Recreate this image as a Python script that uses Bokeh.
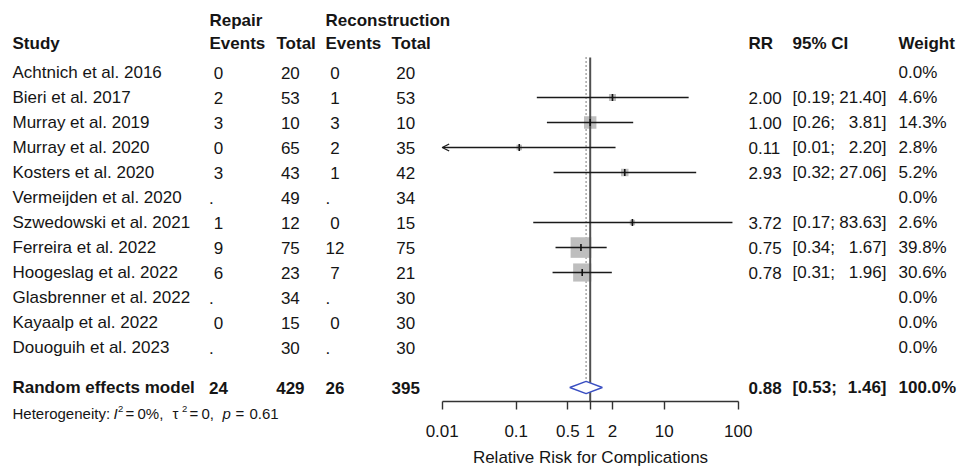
import math
from bokeh.plotting import figure
from bokeh.models import (Range1d, LinearScale, LogAxis, FixedTicker, Arrow, OpenHead)
from bokeh.core.properties import value
from bokeh.embed import file_html
from bokeh.resources import INLINE

# ---------------- data ----------------
studies = ["Achtnich et al. 2016", "Bieri et al. 2017", "Murray et al. 2019", "Murray et al. 2020",
           "Kosters et al. 2020", "Vermeijden et al. 2020", "Szwedowski et al. 2021", "Ferreira et al. 2022",
           "Hoogeslag et al. 2022", "Glasbrenner et al. 2022", "Kayaalp et al. 2022", "Douoguih et al. 2023"]
repair_events = [0, 2, 3, 0, 3, None, 1, 9, 6, None, 0, None]
repair_total = [20, 53, 10, 65, 43, 49, 12, 75, 23, 34, 15, 30]
recon_events = [0, 1, 3, 2, 1, None, 0, 12, 7, None, 0, None]
recon_total = [20, 53, 10, 35, 42, 34, 15, 75, 21, 30, 30, 30]
rr = [None, 2.00, 1.00, 0.11, 2.93, None, 3.72, 0.75, 0.78, None, None, None]
ci_lower = [None, 0.19, 0.26, 0.01, 0.32, None, 0.17, 0.34, 0.31, None, None, None]
ci_upper = [None, 21.40, 3.81, 2.20, 27.06, None, 83.63, 1.67, 1.96, None, None, None]
weight = [0.0, 4.6, 14.3, 2.8, 5.2, 0.0, 2.6, 39.8, 30.6, 0.0, 0.0, 0.0]

summary_label = "Random effects model"
summary_repair_events, summary_repair_total = 24, 429
summary_recon_events, summary_recon_total = 26, 395
summary_rr, summary_lower, summary_upper, summary_weight = 0.88, 0.53, 1.46, 100.0

tick_values = [0.01, 0.1, 0.5, 1, 2, 10, 100]
tick_labels = ["0.01", "0.1", "0.5", "1", "2", "10", "100"]
axis_title = "Relative Risk for Complications"

# ---------------- layout constants ----------------
W, H = 958, 467
FONT = "Liberation Sans"
TXT = "#151515"
FS = "17px"
SPACE_PX = 4.7
DEC_PX = 74.0
AX_LEFT_PX = 441.7
AX_MIN, AX_MAX = 0.01, 100
ROW0_PX, ROW_PX, AXIS_PX = 72.0, 25.0, 401

xmin = 10 ** (math.log10(AX_MIN) - AX_LEFT_PX / DEC_PX)
xmax = 10 ** (math.log10(AX_MIN) + (W - AX_LEFT_PX) / DEC_PX)

def row_of(px):
    return (px - ROW0_PX) / ROW_PX

y_top = row_of(0)
y_bot = row_of(H)
GROUP_ROW = row_of(20)
HEAD_ROW = row_of(43)
SUM_ROW = row_of(387)
HET_ROW = row_of(413)
LINE_TOP = row_of(57)
AXIS_ROW = row_of(AXIS_PX)

p = figure(width=W, height=H, x_axis_type="log", x_range=Range1d(xmin, xmax),
           y_range=Range1d(y_bot, y_top), x_axis_location=None, y_axis_location=None,
           toolbar_location=None, output_backend="svg",
           min_border_left=0, min_border_right=0, min_border_top=0, min_border_bottom=0,
           outline_line_color=None, background_fill_color="white", border_fill_color="white")
p.xgrid.visible = False
p.ygrid.visible = False
p.extra_x_ranges = {"px": Range1d(0, W)}
p.extra_x_scales = {"px": LinearScale()}

def txt(xs, ys, texts, bold=False, align="left", size=FS, style=None):
    p.text(x=xs, y=ys, text=texts, x_range_name="px", text_font=value(FONT),
           text_font_size=size, text_font_style=style or ("bold" if bold else "normal"),
           text_align=align, text_baseline="middle", text_color=TXT)

rows = list(range(len(studies)))

def fmt_col(vals, width, x0):
    xs, ts = [], []
    for v in vals:
        if v is None:
            ts.append("."); xs.append(x0)
        else:
            s = str(v); ts.append(s); xs.append(x0 + SPACE_PX * (width - len(s)))
    return xs, ts

# headers
txt([209, 325], [GROUP_ROW] * 2, ["Repair", "Reconstruction"], bold=True)
txt([12, 209, 276, 325, 391, 748, 792, 898], [HEAD_ROW] * 8,
    ["Study", "Events", "Total", "Events", "Total", "RR", "95% CI", "Weight"], bold=True)

# study rows
txt([12] * len(studies), rows, studies)
for vals, width, x0 in [(repair_events, 2, 208.5), (repair_total, 3, 275.7),
                        (recon_events, 2, 325), (recon_total, 3, 391)]:
    xs, ts = fmt_col(vals, width, x0)
    txt(xs, rows, ts)

est_rows = [i for i in rows if rr[i] is not None]
txt([748] * len(est_rows), est_rows, ["%.2f" % rr[i] for i in est_rows])
txt([792] * len(est_rows), est_rows, ["[%.2f;" % ci_lower[i] for i in est_rows])
txt([886] * len(est_rows), est_rows, ["%.2f]" % ci_upper[i] for i in est_rows], align="right")
txt([898] * len(rows), rows, ["%.1f%%" % w for w in weight])

# summary row
xs, ts = fmt_col([summary_repair_events], 2, 208.5)
txt([12] + xs, [SUM_ROW] * 2, [summary_label] + ts, bold=True)
for v, width, x0 in [(summary_repair_total, 3, 275.7), (summary_recon_events, 2, 325),
                     (summary_recon_total, 3, 391)]:
    xs, ts = fmt_col([v], width, x0)
    txt(xs, [SUM_ROW], ts, bold=True)
txt([748, 792], [SUM_ROW] * 2, ["%.2f" % summary_rr, "[%.2f;" % summary_lower], bold=True)
txt([886], [SUM_ROW], ["%.2f]" % summary_upper], bold=True, align="right")
txt([898], [SUM_ROW], ["%.1f%%" % summary_weight], bold=True)

# heterogeneity line (pieces for italic symbols, superscripts and math spacing)
HS = "15px"
SUP = "9.5px"
het_parts = [("Heterogeneity:", 12, "normal", HS, 0.0),
             ("I", 113, "italic", HS, 0.0),
             ("2", 117.5, "normal", SUP, -5.0),
             ("=", 125, "normal", HS, 0.0),
             ("0%,", 137, "normal", HS, 0.0),
             ("\u03c4", 172, "normal", HS, 0.0),
             ("2", 181.5, "normal", SUP, -5.0),
             ("=", 189, "normal", HS, 0.0),
             ("0,", 201, "normal", HS, 0.0),
             ("p", 222, "italic", HS, 0.0),
             ("=", 235, "normal", HS, 0.0),
             ("0.61", 249, "normal", HS, 0.0)]
for t, x, style, size, dy in het_parts:
    txt([x], [HET_ROW + dy / ROW_PX], [t], size=size, style=style)

# ---------------- forest ----------------
DIAMOND_H = 6.2 / ROW_PX
p.segment(x0=[summary_rr], x1=[summary_rr], y0=[LINE_TOP], y1=[SUM_ROW - DIAMOND_H],
          line_color="#333333", line_width=1.3, line_dash="1 3")

maxw = max(weight)
p.scatter(x=[rr[i] for i in est_rows], y=est_rows,
          size=[20.7 * math.sqrt(weight[i] / maxw) for i in est_rows],
          marker="square", fill_color="#bebebe", line_color=None)

p.segment(x0=[1], x1=[1], y0=[LINE_TOP], y1=[AXIS_ROW], line_color="#505050", line_width=2.0)

seg_rows = [i for i in est_rows if ci_lower[i] > AX_MIN]
p.segment(x0=[ci_lower[i] for i in seg_rows], x1=[ci_upper[i] for i in seg_rows],
          y0=seg_rows, y1=seg_rows, line_color="#1a1a1a", line_width=1.3)
for i in est_rows:
    if ci_lower[i] <= AX_MIN:
        p.add_layout(Arrow(x_start=ci_upper[i], y_start=i, x_end=AX_MIN, y_end=i,
                           line_color="#1a1a1a", line_width=1.3,
                           end=OpenHead(size=7, line_color="#1a1a1a", line_width=1.3)))

p.scatter(x=[rr[i] for i in est_rows], y=est_rows, marker="dash", angle=math.pi / 2,
          size=7, line_color="#111111", line_width=1.6)

p.patch(x=[summary_lower, summary_rr, summary_upper, summary_rr],
        y=[SUM_ROW, SUM_ROW - DIAMOND_H, SUM_ROW, SUM_ROW + DIAMOND_H],
        fill_color="white", line_color="#3a4fc2", line_width=1.4)

# ---------------- axis ----------------
ax = LogAxis(ticker=FixedTicker(ticks=tick_values, minor_ticks=[]), bounds=(AX_MIN, AX_MAX),
             major_label_overrides={v: l for v, l in zip(tick_values, tick_labels)},
             axis_label=axis_title, fixed_location=AXIS_ROW)
ax.axis_line_color = "#333333"
ax.axis_line_width = 1.4
ax.major_tick_line_color = "#333333"
ax.major_tick_line_width = 1.4
ax.major_tick_in = 0
ax.major_tick_out = 8
ax.minor_tick_in = 0
ax.minor_tick_out = 0
ax.major_label_standoff = 15
ax.major_label_text_font = FONT
ax.major_label_text_font_size = FS
ax.major_label_text_color = TXT
ax.axis_label_standoff = 8
ax.axis_label_text_font = FONT
ax.axis_label_text_font_size = FS
ax.axis_label_text_font_style = "normal"
ax.axis_label_text_color = TXT
p.add_layout(ax, "below")

open("out.html", "w").write(file_html(p, INLINE))
